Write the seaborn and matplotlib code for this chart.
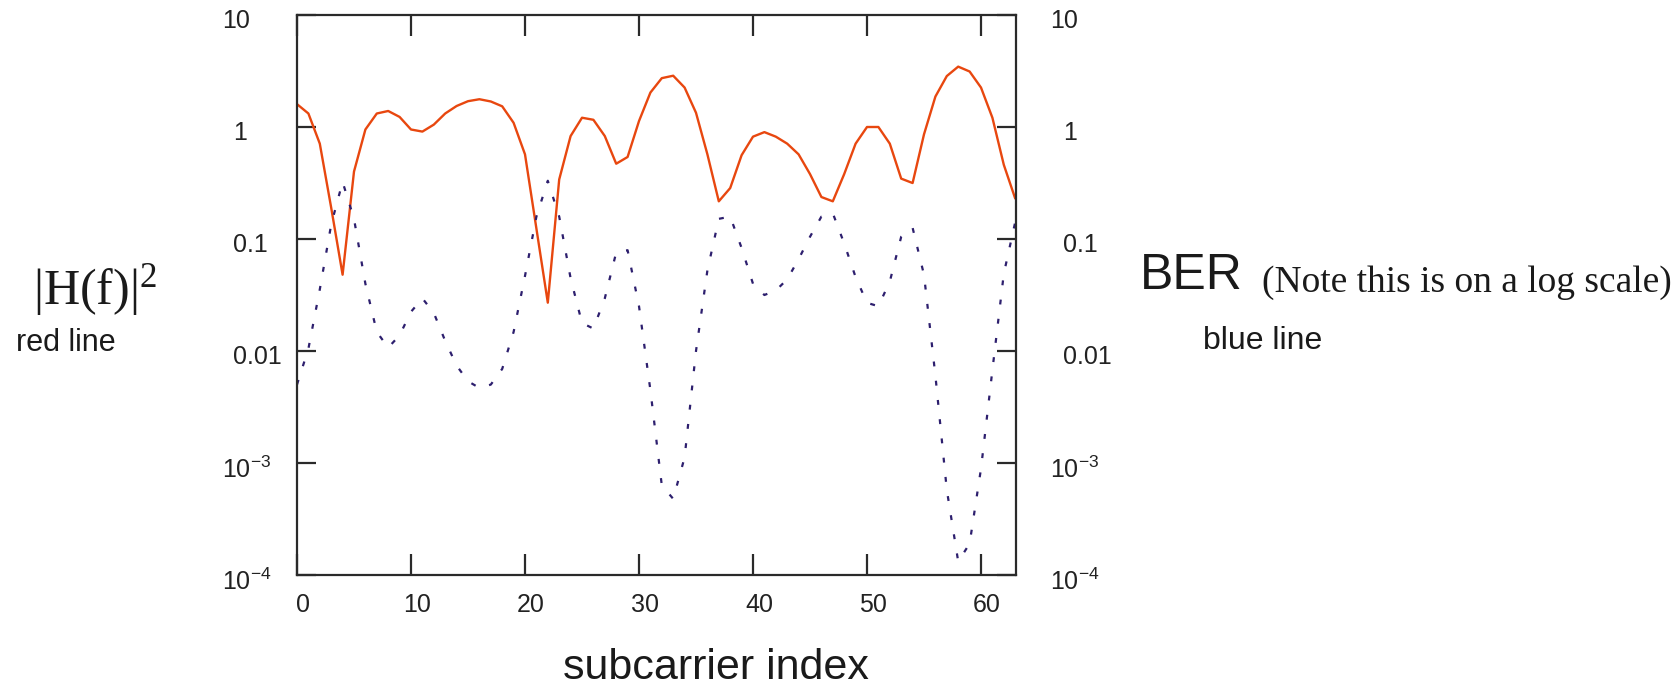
import numpy as np
import pandas as pd
import matplotlib
matplotlib.use("Agg")
import matplotlib.pyplot as plt
import matplotlib.transforms as mtransforms
import seaborn as sns
from matplotlib.ticker import NullLocator, FixedLocator

# ---------------- data ----------------
subcarrier = list(range(64))

h2_red = [1.60, 1.32, 0.71, 0.19, 0.048, 0.40, 0.95, 1.32, 1.39, 1.23,
          0.95, 0.91, 1.05, 1.32, 1.54, 1.70, 1.77, 1.69, 1.53, 1.09,
          0.57, 0.124, 0.027, 0.34, 0.83, 1.21, 1.16, 0.83, 0.47, 0.54,
          1.13, 2.03, 2.73, 2.87, 2.25, 1.34, 0.57, 0.217, 0.285, 0.56,
          0.82, 0.90, 0.82, 0.71, 0.57, 0.38, 0.237, 0.217, 0.38, 0.71,
          1.00, 1.00, 0.71, 0.346, 0.316, 0.86, 1.87, 2.85, 3.46, 3.13,
          2.25, 1.21, 0.46, 0.23]

ber_log10 = [-2.30, -1.98, -1.45, -0.87, -0.49, -0.82, -1.40, -1.83, -1.97, -1.86,
             -1.65, -1.53, -1.66, -1.91, -2.13, -2.27, -2.33, -2.30, -2.16, -1.83,
             -1.33, -0.80, -0.48, -0.80, -1.35, -1.75, -1.80, -1.53, -1.12, -1.10,
             -1.60, -2.35, -3.20, -3.32, -2.95, -2.00, -1.28, -0.82, -0.80, -1.08,
             -1.40, -1.50, -1.46, -1.36, -1.18, -0.98, -0.80, -0.77, -1.04, -1.34,
             -1.57, -1.60, -1.38, -0.98, -0.90, -1.32, -2.22, -3.24, -3.88, -3.72,
             -3.05, -2.17, -1.31, -0.85]
ber_blue = [10 ** v for v in ber_log10]

y_ticks = [1e-4, 1e-3, 1e-2, 1e-1, 1, 10]
y_tick_labels = [r"$\mathregular{10^{-4}}$", r"$\mathregular{10^{-3}}$",
                 "0.01", "0.1", "1", "10"]
x_ticks = [0, 10, 20, 30, 40, 50, 60]

df = pd.DataFrame({"subcarrier": subcarrier, "H2": h2_red, "BER": ber_blue})

# ---------------- style ----------------
sns.set_style("ticks")
plt.rcParams["font.family"] = ["Liberation Sans", "DejaVu Sans"]
plt.rcParams["mathtext.fontset"] = "custom"
plt.rcParams["mathtext.rm"] = "Liberation Sans"

W, H = 1672, 688
fig = plt.figure(figsize=(W / 100, H / 100), dpi=100)
ax = fig.add_axes([297 / W, 1 - 575 / H, (1016 - 297) / W, (575 - 15) / H])

red = "#e8470f"
blue = "#2d1f6e"
frame = "#2a2a2a"

sns.lineplot(data=df, x="subcarrier", y="H2", ax=ax, color=red, linewidth=1.7)
sns.lineplot(data=df, x="subcarrier", y="BER", ax=ax, color=blue, linewidth=1.6,
             linestyle=(0, (2.2, 6.5)))

ax.set_yscale("log")
ax.set_xlim(0, 63.07)
ax.set_ylim(1e-4, 10)
ax.set_xlabel("")
ax.set_ylabel("")

ax.yaxis.set_major_locator(FixedLocator(y_ticks))
ax.yaxis.set_minor_locator(NullLocator())
ax.set_yticklabels(y_tick_labels, ha="left")
ax.set_xticks(x_ticks)
ax.set_xticklabels([str(v) for v in x_ticks])

for s in ax.spines.values():
    s.set_color(frame)
    s.set_linewidth(1.6)

ax.tick_params(axis="x", which="major", direction="in", top=True, bottom=True,
               length=15, width=1.6, color=frame, pad=13, labelsize=18,
               labelcolor="#222222")
ax.tick_params(axis="y", which="major", direction="in", left=True, right=True,
               length=14, width=1.6, color=frame, pad=51, labelsize=18,
               labelcolor="#222222")

# right-hand axis labels (same scale)
ax2 = ax.twinx()
ax2.set_yscale("log")
ax2.set_ylim(1e-4, 10)
ax2.yaxis.set_major_locator(FixedLocator(y_ticks))
ax2.yaxis.set_minor_locator(NullLocator())
ax2.set_yticklabels(y_tick_labels)
ax2.tick_params(axis="y", which="major", direction="in", length=14, width=1.6,
                color=frame, pad=26, labelsize=18, labelcolor="#222222")
for s in ax2.spines.values():
    s.set_visible(False)

def shift(label, dx_px, dy_px=0):
    off = mtransforms.ScaledTranslation(dx_px / 100, dy_px / 100, fig.dpi_scale_trans)
    label.set_transform(label.get_transform() + off)

for lab, txt in zip(ax.get_yticklabels(), y_tick_labels):
    shift(lab, -4 if "10" == txt or "mathregular" in txt else 7, -4)
for lab, txt in zip(ax2.get_yticklabels(), y_tick_labels):
    shift(lab, -2 if "10" == txt or "mathregular" in txt else 11, -4)
for lab in ax.get_xticklabels():
    shift(lab, 6)

# x label
ax.set_xlabel("subcarrier index", fontsize=31, color="#1a1a1a")
ax.xaxis.set_label_coords((716 - 297) / (1016 - 297), -(648 - 575) / 560)
ax.xaxis.label.set_va("top")

# side annotations
serif = ["Liberation Serif", "DejaVu Serif"]
fig.text(33 / W, 1 - 304 / H, r"$\mathregular{|H(f)|^2}$", fontsize=36,
         family=serif, color="#1a1a1a", ha="left", va="baseline")
fig.text(16 / W, 1 - 351 / H, "red line", fontsize=22, color="#1a1a1a",
         ha="left", va="baseline")
fig.text(1140 / W, 1 - 289 / H, "BER", fontsize=36, color="#1a1a1a",
         ha="left", va="baseline")
fig.text(1262 / W, 1 - 292 / H, "(Note this is on a log scale)", fontsize=27,
         family=serif, color="#1a1a1a", ha="left", va="baseline")
fig.text(1203 / W, 1 - 349 / H, "blue line", fontsize=23, color="#1a1a1a",
         ha="left", va="baseline")

fig.savefig("out.png", dpi=100)
